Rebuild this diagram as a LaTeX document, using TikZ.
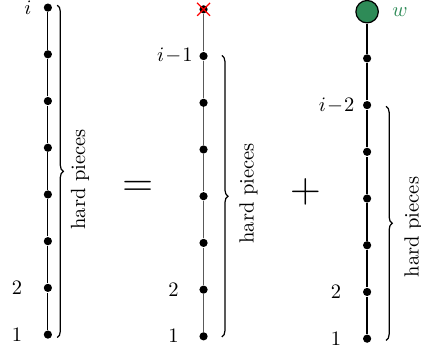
\documentclass[tikz,border=0pt]{standalone}
\usetikzlibrary{decorations.pathreplacing,shapes.misc}
\definecolor{wgreen}{RGB}{46,139,87}
\tikzset{
  dot/.style={circle,fill=black,inner sep=0pt,minimum size=4pt},
  hardbrace/.style={decorate,decoration={brace,amplitude=3pt}},
}
\begin{document}
\begin{tikzpicture}[x=1cm,y=1cm,line width=.6pt,font=\normalsize]
  \useasboundingbox (0,0) rectangle (7.21,6.05);
  % left chain
  \node[dot] (l0) at (.82,.32) {};
  \node[dot] (l1) at (.82,1.12) {};
  \node[dot] (l2) at (.82,1.92) {};
  \node[dot] (l3) at (.82,2.72) {};
  \node[dot] (l4) at (.82,3.52) {};
  \node[dot] (l5) at (.82,4.32) {};
  \node[dot] (l6) at (.82,5.12) {};
  \node[dot] (l7) at (.82,5.92) {};
  \draw (l0)--(l1)--(l2)--(l3)--(l4)--(l5)--(l6)--(l7);
  \node[left] at (.665,5.92) {$i$};
  \node[left] at (.506,1.12) {$2$};
  \node[left] at (.506,.32) {$1$};
  \draw[hardbrace] (.98,5.96)--(.98,.27);
  \node[rotate=90] at (1.37,2.98) {hard pieces};
  \node at (2.36,2.81) {\huge$=$};
  % middle chain
  \node[dot] (m0) at (3.486,.29) {};
  \node[dot] (m1) at (3.486,1.09) {};
  \node[dot] (m2) at (3.486,1.89) {};
  \node[dot] (m3) at (3.486,2.69) {};
  \node[dot] (m4) at (3.486,3.49) {};
  \node[dot] (m5) at (3.486,4.29) {};
  \node[dot] (m6) at (3.486,5.09) {};
  \node[dot] (m7) at (3.486,5.89) {};
  \draw[black!65] (m0)--(m1)--(m2)--(m3)--(m4)--(m5)--(m6)--(m7);
  \node[cross out,draw=red,inner sep=0pt,minimum size=.2cm] (x) at (m7) {};
  \node[left] at (3.428,5.09) {$i\!-\!1$};
  \node[left] at (3.188,1.09) {$2$};
  \node[left] at (3.188,.29) {$1$};
  \draw[hardbrace] (3.8,5.1)--(3.8,.28);
  \node[rotate=90] at (4.254,2.74) {hard pieces};
  \node at (5.23,2.76) {\huge$+$};
  % right chain
  \node[dot] (r0) at (6.287,.25) {};
  \node[dot] (r1) at (6.287,1.05) {};
  \node[dot] (r2) at (6.287,1.85) {};
  \node[dot] (r3) at (6.287,2.65) {};
  \node[dot] (r4) at (6.287,3.45) {};
  \node[dot] (r5) at (6.287,4.25) {};
  \node[dot] (r6) at (6.287,5.05) {};
  \node[circle,draw=black,fill=wgreen,inner sep=0pt,minimum size=.384cm] (w) at (6.287,5.85) {};
  \draw (r0)--(r1)--(r2)--(r3)--(r4)--(r5)--(r6)--(w);
  \node[right,text=wgreen] at (6.593,5.84) {$w$};
  \node[left] at (6.198,4.25) {$i\!-\!2$};
  \node[left] at (5.97,1.05) {$2$};
  \node[left] at (5.97,.25) {$1$};
  \draw[hardbrace] (6.612,4.23)--(6.612,.22);
  \node[rotate=90] at (7.08,2.16) {hard pieces};
\end{tikzpicture}
\end{document}
